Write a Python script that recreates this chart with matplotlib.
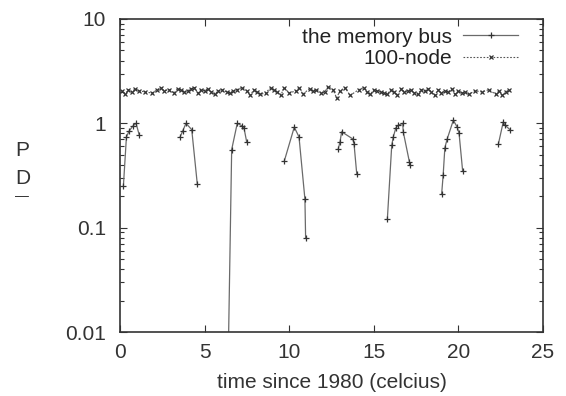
import matplotlib
matplotlib.use("Agg")
import matplotlib.pyplot as plt
from matplotlib.ticker import FixedLocator, FixedFormatter, LogLocator, NullFormatter

plt.rcParams['font.family'] = ['Liberation Sans', 'DejaVu Sans']

# memory bus segments (x, y); None separates segments
bus_x = [0.2, 0.38, 0.53, 0.78, 0.95, 1.14, None,
         3.55, 3.70, 3.90, 4.24, 4.57, None,
         6.32, 6.60, 6.93, 7.19, 7.33, 7.49, None,
         9.71, 10.30, 10.58, 10.93, 10.97, None,
         12.90, 13.00, 13.10, 13.75, 13.83, 13.99, None,
         15.80, 16.06, 16.15, 16.31, 16.45, 16.71, 16.74, 17.10, 17.14, None,
         19.01, 19.10, 19.20, 19.34, 19.70, 19.93, 20.04, 20.25, None,
         22.36, 22.65, 22.75, 23.05]
bus_y = [0.25, 0.74, 0.84, 0.95, 1.0, 0.77, None,
         0.74, 0.84, 1.0, 0.87, 0.26, None,
         0.001, 0.56, 1.0, 0.95, 0.90, 0.66, None,
         0.435, 0.92, 0.74, 0.187, 0.080, None,
         0.57, 0.66, 0.83, 0.71, 0.64, 0.33, None,
         0.12, 0.615, 0.74, 0.91, 0.96, 1.0, 0.83, 0.43, 0.40, None,
         0.21, 0.32, 0.585, 0.71, 1.07, 0.92, 0.80, 0.35, None,
         0.63, 1.03, 0.96, 0.87]

node_x = [0.1, 0.3, 0.5, 0.7, 0.9, 1.1, 1.5, 1.9, 2.2, 2.4, 2.6, 2.9, 3.2, 3.4,
          3.6, 3.8, 4.0, 4.2, 4.4, 4.6, 4.8, 5.0, 5.2, 5.4, 5.6, 5.8, 6.0, 6.3,
          6.5, 6.7, 6.9, 7.2, 7.5, 7.7, 7.9, 8.1, 8.3, 8.6, 8.9, 9.1, 9.3, 9.5,
          9.7, 10.0, 10.4, 10.6, 10.8, 11.2, 11.4, 11.6, 11.9, 12.1, 12.3, 12.6,
          12.8, 13.0, 13.3, 13.6, 14.1, 14.4, 14.6, 14.8, 15.0, 15.2, 15.4, 15.6,
          15.8, 16.0, 16.2, 16.4, 16.6, 16.8, 17.0, 17.2, 17.4, 17.6, 17.8, 18.0,
          18.2, 18.4, 18.6, 18.8, 19.0, 19.2, 19.4, 19.6, 19.8, 20.0, 20.2, 20.4,
          20.6, 21.0, 21.4, 21.8, 22.2, 22.4, 22.6, 22.8, 23.0]
node_y = [2.05, 1.9, 2.1, 2.0, 2.15, 2.05, 2.0, 1.95, 2.1, 2.2, 2.05, 2.1, 1.95,
          2.15, 2.1, 2.0, 2.05, 2.15, 2.2, 1.95, 2.1, 2.05, 2.15, 2.0, 1.9,
          2.05, 2.1, 2.0, 1.95, 2.05, 2.1, 2.2, 2.05, 1.85, 2.1, 2.0, 1.9,
          1.95, 2.2, 2.1, 2.0, 1.85, 2.2, 1.95, 2.05, 2.2, 1.9, 2.15, 2.05,
          2.1, 1.95, 2.0, 2.25, 2.1, 1.75, 2.05, 2.2, 1.85, 2.1, 2.2, 2.0,
          1.9, 2.1, 2.05, 2.0, 1.95, 1.9, 2.1, 2.0, 1.85, 2.15, 2.0, 2.05,
          2.1, 1.95, 1.9, 2.1, 2.05, 2.15, 2.0, 1.85, 2.1, 1.95, 2.05, 2.0,
          2.15, 1.9, 2.05, 1.95, 2.0, 1.9, 2.05, 2.0, 2.1, 1.9, 2.05, 1.85,
          2.0, 2.1]

x_ticks = [0, 5, 10, 15, 20, 25]
y_ticks = [0.01, 0.1, 1, 10]
y_tick_labels = ["0.01", "0.1", "1", "10"]

FS = 15
fig = plt.figure(figsize=(5.66, 3.96), dpi=100)
ax = fig.add_axes([120/566, 1-332/396, (543-120)/566, (332-19)/396])

bx = [float('nan') if v is None else v for v in bus_x]
by = [float('nan') if v is None else v for v in bus_y]
ax.plot(bx, by, color='#6a6a6a', lw=0.9, marker='+', ms=4, mew=0.9,
        mec='#333333', label='the memory bus')
ax.plot(node_x, node_y, color='#555555', lw=0.8, ls=(0, (1.5, 1.5)),
        marker='x', ms=3, mew=0.9, mec='#333333', label='100-node')

ax.set_yscale('log')
ax.set_xlim(0, 25)
ax.set_ylim(0.01, 10)
ax.xaxis.set_major_locator(FixedLocator(x_ticks))
ax.yaxis.set_major_locator(FixedLocator(y_ticks))
ax.yaxis.set_major_formatter(FixedFormatter(y_tick_labels))
ax.yaxis.set_minor_locator(LogLocator(base=10, subs=range(2, 10)))
ax.yaxis.set_minor_formatter(NullFormatter())
ax.tick_params(which='both', direction='in', top=True, right=True,
               labelsize=FS, colors='#333333')
ax.tick_params(axis='y', pad=10)
ax.tick_params(axis='x', pad=8)
ax.tick_params(which='major', length=5, width=0.8)
ax.tick_params(which='minor', length=3, width=0.8)
for s in ax.spines.values():
    s.set_linewidth(1.2)
    s.set_color('#333333')

ax.set_xlabel('time since 1980 (celcius)', fontsize=FS, color='#333333', labelpad=8)
fig.text(15/566, 1-150/396, 'P', fontsize=FS, color='#333333', ha='left', va='center')
fig.text(15/566, 1-178.5/396, 'D', fontsize=FS, color='#333333', ha='left', va='center')
fig.text(15/566, 1-196/396, '\u2014', fontsize=10, color='#333333', ha='left', va='center')

leg = ax.legend(loc='upper right', bbox_to_anchor=(0.941, 0.972), frameon=False,
                markerfirst=False, fontsize=FS, handlelength=2.64,
                borderaxespad=0, borderpad=0, labelspacing=0.1,
                handletextpad=0.55)
for t in leg.get_texts():
    t.set_color('#222222')

fig.savefig('out.png', dpi=100)
